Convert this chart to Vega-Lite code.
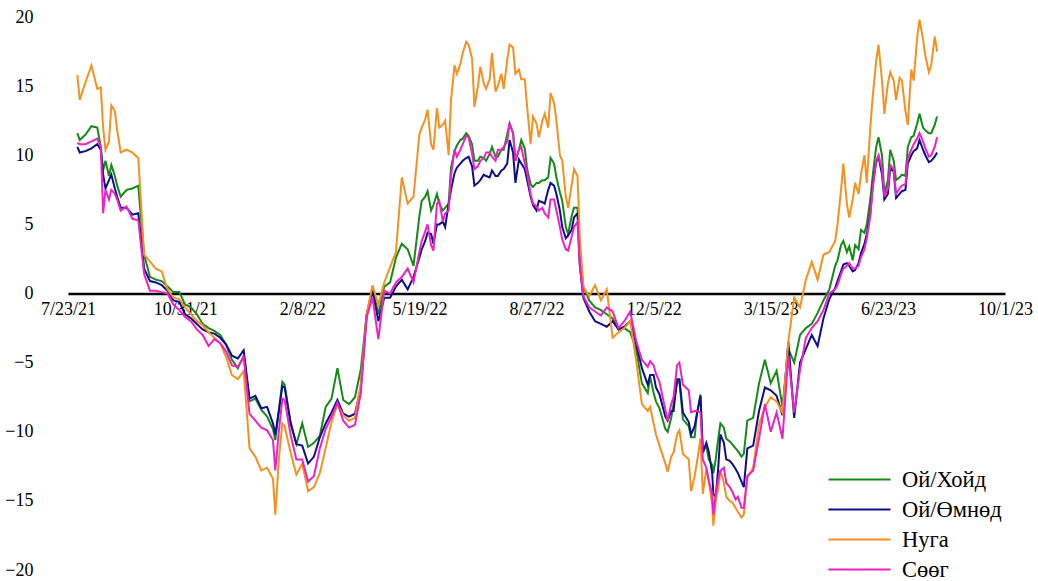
{
  "$schema": "https://vega.github.io/schema/vega-lite/v6.json",
  "width": 937,
  "height": 553,
  "autosize": "none",
  "padding": {"left": 68, "top": 17, "right": 33, "bottom": 11},
  "background": "white",
  "config": {"view": {"stroke": null}, "font": "Liberation Serif"},
  "data": {"values": [
    {"date": "2021/07/31", "Нуга": 15.8, "Ой/Хойд": 11.6, "Ой/Өмнөд": 10.6, "Сөөг": 10.9},
    {"date": "2021/08/02", "Нуга": 14.0, "Ой/Хойд": 11.1, "Ой/Өмнөд": 10.2, "Сөөг": 10.8},
    {"date": "2021/08/07", "Нуга": 15.3, "Ой/Хойд": 11.5, "Ой/Өмнөд": 10.3, "Сөөг": 10.8},
    {"date": "2021/08/12", "Нуга": 16.5, "Ой/Хойд": 12.1, "Ой/Өмнөд": 10.5, "Сөөг": 11.0},
    {"date": "2021/08/17", "Нуга": 14.8, "Ой/Хойд": 12.0, "Ой/Өмнөд": 10.8, "Сөөг": 11.2},
    {"date": "2021/08/20", "Нуга": 14.9, "Ой/Хойд": 10.6, "Ой/Өмнөд": 10.4, "Сөөг": 10.6},
    {"date": "2021/08/22", "Нуга": 12.0, "Ой/Хойд": 8.9, "Ой/Өмнөд": 8.6, "Сөөг": 5.8},
    {"date": "2021/08/24", "Нуга": 10.4, "Ой/Хойд": 9.6, "Ой/Өмнөд": 7.6, "Сөөг": 7.5},
    {"date": "2021/08/27", "Нуга": 11.0, "Ой/Хойд": 8.5, "Ой/Өмнөд": 8.2, "Сөөг": 6.8},
    {"date": "2021/08/29", "Нуга": 13.6, "Ой/Хойд": 9.3, "Ой/Өмнөд": 8.6, "Сөөг": 7.5},
    {"date": "2021/09/01", "Нуга": 13.2, "Ой/Хойд": 8.5, "Ой/Өмнөд": 7.6, "Сөөг": 7.2},
    {"date": "2021/09/03", "Нуга": 11.8, "Ой/Хойд": 7.8, "Ой/Өмнөд": 7.0, "Сөөг": 6.8},
    {"date": "2021/09/06", "Нуга": 10.2, "Ой/Хойд": 7.0, "Ой/Өмнөд": 6.2, "Сөөг": 6.0},
    {"date": "2021/09/11", "Нуга": 10.4, "Ой/Хойд": 7.5, "Ой/Өмнөд": 6.2, "Сөөг": 6.3},
    {"date": "2021/09/16", "Нуга": 10.2, "Ой/Хойд": 7.6, "Ой/Өмнөд": 5.7, "Сөөг": 5.4},
    {"date": "2021/09/21", "Нуга": 9.8, "Ой/Хойд": 7.8, "Ой/Өмнөд": 5.8, "Сөөг": 5.3},
    {"date": "2021/09/26", "Нуга": 2.8, "Ой/Хойд": 2.8, "Ой/Өмнөд": 1.8, "Сөөг": 1.4},
    {"date": "2021/10/01", "Нуга": 2.3, "Ой/Хойд": 1.2, "Ой/Өмнөд": 0.9, "Сөөг": 0.2},
    {"date": "2021/10/06", "Нуга": 1.8, "Ой/Хойд": 1.0, "Ой/Өмнөд": 0.8, "Сөөг": 0.2},
    {"date": "2021/10/11", "Нуга": 1.6, "Ой/Хойд": 0.9, "Ой/Өмнөд": 0.6, "Сөөг": 0.1},
    {"date": "2021/10/16", "Нуга": 0.3, "Ой/Хойд": 0.5, "Ой/Өмнөд": 0.2, "Сөөг": 0.0},
    {"date": "2021/10/21", "Нуга": -0.3, "Ой/Хойд": 0.1, "Ой/Өмнөд": -0.5, "Сөөг": -0.8},
    {"date": "2021/10/26", "Нуга": -0.4, "Ой/Хойд": 0.1, "Ой/Өмнөд": -0.6, "Сөөг": -1.2},
    {"date": "2021/10/31", "Нуга": -1.0, "Ой/Хойд": -0.8, "Ой/Өмнөд": -1.5, "Сөөг": -1.7},
    {"date": "2021/11/05", "Нуга": -1.5, "Ой/Хойд": -1.0, "Ой/Өмнөд": -1.8, "Сөөг": -2.0},
    {"date": "2021/11/10", "Нуга": -2.0, "Ой/Хойд": -1.5, "Ой/Өмнөд": -2.2, "Сөөг": -2.6},
    {"date": "2021/11/15", "Нуга": -2.3, "Ой/Хойд": -2.2, "Ой/Өмнөд": -2.6, "Сөөг": -3.0},
    {"date": "2021/11/20", "Нуга": -2.8, "Ой/Хойд": -2.5, "Ой/Өмнөд": -2.8, "Сөөг": -3.8},
    {"date": "2021/11/25", "Нуга": -3.2, "Ой/Хойд": -2.7, "Ой/Өмнөд": -2.9, "Сөөг": -3.3},
    {"date": "2021/11/30", "Нуга": -3.6, "Ой/Хойд": -3.0, "Ой/Өмнөд": -3.2, "Сөөг": -3.6},
    {"date": "2021/12/05", "Нуга": -4.6, "Ой/Хойд": -3.7, "Ой/Өмнөд": -3.7, "Сөөг": -4.2},
    {"date": "2021/12/10", "Нуга": -5.9, "Ой/Хойд": -4.8, "Ой/Өмнөд": -4.5, "Сөөг": -5.2},
    {"date": "2021/12/15", "Нуга": -6.2, "Ой/Хойд": -5.4, "Ой/Өмнөд": -4.7, "Сөөг": -5.3},
    {"date": "2021/12/20", "Нуга": -5.6, "Ой/Хойд": -4.5, "Ой/Өмнөд": -4.1, "Сөөг": -4.6},
    {"date": "2021/12/25", "Нуга": -11.2, "Ой/Хойд": -7.8, "Ой/Өмнөд": -7.6, "Сөөг": -8.7},
    {"date": "2021/12/30", "Нуга": -11.8, "Ой/Хойд": -7.6, "Ой/Өмнөд": -7.4, "Сөөг": -9.2},
    {"date": "2022/01/04", "Нуга": -12.8, "Ой/Хойд": -8.4, "Ой/Өмнөд": -8.3, "Сөөг": -9.7},
    {"date": "2022/01/09", "Нуга": -12.6, "Ой/Хойд": -8.9, "Ой/Өмнөд": -8.2, "Сөөг": -9.9},
    {"date": "2022/01/14", "Нуга": -13.4, "Ой/Хойд": -9.8, "Ой/Өмнөд": -9.4, "Сөөг": -10.6},
    {"date": "2022/01/16", "Нуга": -16.0, "Ой/Хойд": -10.6, "Ой/Өмнөд": -10.2, "Сөөг": -12.8},
    {"date": "2022/01/19", "Нуга": -12.0, "Ой/Хойд": -8.5, "Ой/Өмнөд": -8.5, "Сөөг": -10.0},
    {"date": "2022/01/22", "Нуга": -9.4, "Ой/Хойд": -6.4, "Ой/Өмнөд": -6.7, "Сөөг": -7.6},
    {"date": "2022/01/24", "Нуга": -9.6, "Ой/Хойд": -6.6, "Ой/Өмнөд": -6.8, "Сөөг": -7.7},
    {"date": "2022/01/29", "Нуга": -11.5, "Ой/Хойд": -9.4, "Ой/Өмнөд": -9.3, "Сөөг": -10.2},
    {"date": "2022/02/03", "Нуга": -13.1, "Ой/Хойд": -10.9, "Ой/Өмнөд": -10.9, "Сөөг": -12.0},
    {"date": "2022/02/08", "Нуга": -12.3, "Ой/Хойд": -9.4, "Ой/Өмнөд": -11.0, "Сөөг": -12.0},
    {"date": "2022/02/13", "Нуга": -14.3, "Ой/Хойд": -11.1, "Ой/Өмнөд": -12.3, "Сөөг": -13.6},
    {"date": "2022/02/18", "Нуга": -14.0, "Ой/Хойд": -10.8, "Ой/Өмнөд": -11.8, "Сөөг": -13.2},
    {"date": "2022/02/23", "Нуга": -13.0, "Ой/Хойд": -10.3, "Ой/Өмнөд": -10.4, "Сөөг": -11.2},
    {"date": "2022/02/28", "Нуга": -11.2, "Ой/Хойд": -8.2, "Ой/Өмнөд": -9.4, "Сөөг": -9.8},
    {"date": "2022/03/05", "Нуга": -9.3, "Ой/Хойд": -7.6, "Ой/Өмнөд": -8.6, "Сөөг": -8.9},
    {"date": "2022/03/10", "Нуга": -8.0, "Ой/Хойд": -5.4, "Ой/Өмнөд": -7.7, "Сөөг": -7.9},
    {"date": "2022/03/15", "Нуга": -8.8, "Ой/Хойд": -7.7, "Ой/Өмнөд": -8.7, "Сөөг": -9.2},
    {"date": "2022/03/20", "Нуга": -9.2, "Ой/Хойд": -8.0, "Ой/Өмнөд": -8.9, "Сөөг": -9.7},
    {"date": "2022/03/25", "Нуга": -9.0, "Ой/Хойд": -7.5, "Ой/Өмнөд": -8.7, "Сөөг": -9.5},
    {"date": "2022/03/30", "Нуга": -6.5, "Ой/Хойд": -5.5, "Ой/Өмнөд": -6.8, "Сөөг": -7.2},
    {"date": "2022/04/04", "Нуга": -1.5, "Ой/Хойд": -1.5, "Ой/Өмнөд": -1.6, "Сөөг": -1.7},
    {"date": "2022/04/09", "Нуга": 0.6, "Ой/Хойд": 0.4, "Ой/Өмнөд": 0.2, "Сөөг": -0.3},
    {"date": "2022/04/14", "Нуга": -0.8, "Ой/Хойд": -1.5, "Ой/Өмнөд": -2.0, "Сөөг": -3.3},
    {"date": "2022/04/19", "Нуга": 0.8, "Ой/Хойд": 0.5, "Ой/Өмнөд": -0.3, "Сөөг": 0.2},
    {"date": "2022/04/24", "Нуга": 1.9, "Ой/Хойд": 0.8, "Ой/Өмнөд": -0.3, "Сөөг": 0.0},
    {"date": "2022/04/29", "Нуга": 3.0, "Ой/Хойд": 2.6, "Ой/Өмнөд": 0.5, "Сөөг": 0.8},
    {"date": "2022/05/04", "Нуга": 8.4, "Ой/Хойд": 3.6, "Ой/Өмнөд": 1.0, "Сөөг": 1.2},
    {"date": "2022/05/09", "Нуга": 6.5, "Ой/Хойд": 3.2, "Ой/Өмнөд": 0.3, "Сөөг": 1.8},
    {"date": "2022/05/14", "Нуга": 7.0, "Ой/Хойд": 2.0, "Ой/Өмнөд": 1.2, "Сөөг": 0.8},
    {"date": "2022/05/19", "Нуга": 11.5, "Ой/Хойд": 5.6, "Ой/Өмнөд": 2.6, "Сөөг": 3.0},
    {"date": "2022/05/21", "Нуга": 12.0, "Ой/Хойд": 6.7, "Ой/Өмнөд": 3.2, "Сөөг": 3.8},
    {"date": "2022/05/24", "Нуга": 12.6, "Ой/Хойд": 7.0, "Ой/Өмнөд": 3.8, "Сөөг": 4.5},
    {"date": "2022/05/26", "Нуга": 13.3, "Ой/Хойд": 7.4, "Ой/Өмнөд": 4.4, "Сөөг": 5.0},
    {"date": "2022/05/29", "Нуга": 10.8, "Ой/Хойд": 6.0, "Ой/Өмнөд": 4.3, "Сөөг": 3.5},
    {"date": "2022/05/31", "Нуга": 10.4, "Ой/Хойд": 6.4, "Ой/Өмнөд": 3.6, "Сөөг": 3.1},
    {"date": "2022/06/03", "Нуга": 13.4, "Ой/Хойд": 7.2, "Ой/Өмнөд": 5.0, "Сөөг": 6.5},
    {"date": "2022/06/05", "Нуга": 12.0, "Ой/Хойд": 6.5, "Ой/Өмнөд": 5.0, "Сөөг": 6.7},
    {"date": "2022/06/08", "Нуга": 12.2, "Ой/Хойд": 6.0, "Ой/Өмнөд": 5.2, "Сөөг": 5.2},
    {"date": "2022/06/10", "Нуга": 12.5, "Ой/Хойд": 6.2, "Ой/Өмнөд": 4.8, "Сөөг": 5.8},
    {"date": "2022/06/13", "Нуга": 10.0, "Ой/Хойд": 6.5, "Ой/Өмнөд": 6.5, "Сөөг": 6.0},
    {"date": "2022/06/15", "Нуга": 14.0, "Ой/Хойд": 9.1, "Ой/Өмнөд": 7.5, "Сөөг": 8.5},
    {"date": "2022/06/18", "Нуга": 16.5, "Ой/Хойд": 10.3, "Ой/Өмнөд": 8.7, "Сөөг": 10.4},
    {"date": "2022/06/20", "Нуга": 15.9, "Ой/Хойд": 10.7, "Ой/Өмнөд": 9.1, "Сөөг": 9.9},
    {"date": "2022/06/23", "Нуга": 16.6, "Ой/Хойд": 11.1, "Ой/Өмнөд": 9.4, "Сөөг": 10.4},
    {"date": "2022/06/25", "Нуга": 17.4, "Ой/Хойд": 11.2, "Ой/Өмнөд": 9.6, "Сөөг": 10.8},
    {"date": "2022/06/28", "Нуга": 18.2, "Ой/Хойд": 11.6, "Ой/Өмнөд": 9.8, "Сөөг": 11.4},
    {"date": "2022/06/30", "Нуга": 18.0, "Ой/Хойд": 11.4, "Ой/Өмнөд": 9.9, "Сөөг": 11.3},
    {"date": "2022/07/03", "Нуга": 17.0, "Ой/Хойд": 10.8, "Ой/Өмнөд": 9.2, "Сөөг": 10.1},
    {"date": "2022/07/05", "Нуга": 13.5, "Ой/Хойд": 9.6, "Ой/Өмнөд": 7.8, "Сөөг": 9.0},
    {"date": "2022/07/08", "Нуга": 15.0, "Ой/Хойд": 9.6, "Ой/Өмнөд": 8.0, "Сөөг": 9.2},
    {"date": "2022/07/10", "Нуга": 16.4, "Ой/Хойд": 9.9, "Ой/Өмнөд": 8.2, "Сөөг": 9.6},
    {"date": "2022/07/13", "Нуга": 15.2, "Ой/Хойд": 9.8, "Ой/Өмнөд": 8.6, "Сөөг": 9.8},
    {"date": "2022/07/15", "Нуга": 14.8, "Ой/Хойд": 9.6, "Ой/Өмнөд": 8.5, "Сөөг": 10.2},
    {"date": "2022/07/18", "Нуга": 15.5, "Ой/Хойд": 10.1, "Ой/Өмнөд": 8.4, "Сөөг": 10.2},
    {"date": "2022/07/20", "Нуга": 17.4, "Ой/Хойд": 10.6, "Ой/Өмнөд": 8.9, "Сөөг": 9.9},
    {"date": "2022/07/23", "Нуга": 14.6, "Ой/Хойд": 9.9, "Ой/Өмнөд": 8.5, "Сөөг": 9.6},
    {"date": "2022/07/25", "Нуга": 15.0, "Ой/Хойд": 9.9, "Ой/Өмнөд": 8.5, "Сөөг": 10.4},
    {"date": "2022/07/28", "Нуга": 15.9, "Ой/Хойд": 10.4, "Ой/Өмнөд": 8.9, "Сөөг": 10.4},
    {"date": "2022/07/30", "Нуга": 14.8, "Ой/Хойд": 10.4, "Ой/Өмнөд": 9.0, "Сөөг": 10.6},
    {"date": "2022/08/02", "Нуга": 16.9, "Ой/Хойд": 11.5, "Ой/Өмнөд": 9.4, "Сөөг": 11.0},
    {"date": "2022/08/04", "Нуга": 18.0, "Ой/Хойд": 12.3, "Ой/Өмнөд": 11.1, "Сөөг": 12.3},
    {"date": "2022/08/07", "Нуга": 17.8, "Ой/Хойд": 11.6, "Ой/Өмнөд": 10.2, "Сөөг": 11.6},
    {"date": "2022/08/09", "Нуга": 15.9, "Ой/Хойд": 9.6, "Ой/Өмнөд": 8.0, "Сөөг": 9.6},
    {"date": "2022/08/12", "Нуга": 16.2, "Ой/Хойд": 10.4, "Ой/Өмнөд": 9.7, "Сөөг": 10.4},
    {"date": "2022/08/14", "Нуга": 15.5, "Ой/Хойд": 11.1, "Ой/Өмнөд": 9.4, "Сөөг": 10.6},
    {"date": "2022/08/17", "Нуга": 15.5, "Ой/Хойд": 10.5, "Ой/Өмнөд": 9.0, "Сөөг": 9.4},
    {"date": "2022/08/19", "Нуга": 13.5, "Ой/Хойд": 9.0, "Ой/Өмнөд": 8.2, "Сөөг": 8.7},
    {"date": "2022/08/22", "Нуга": 10.8, "Ой/Хойд": 7.9, "Ой/Өмнөд": 7.0, "Сөөг": 7.2},
    {"date": "2022/08/24", "Нуга": 12.8, "Ой/Хойд": 7.7, "Ой/Өмнөд": 6.4, "Сөөг": 6.5},
    {"date": "2022/08/27", "Нуга": 12.3, "Ой/Хойд": 8.0, "Ой/Өмнөд": 6.0, "Сөөг": 6.3},
    {"date": "2022/08/29", "Нуга": 11.3, "Ой/Хойд": 8.0, "Ой/Өмнөд": 6.7, "Сөөг": 6.0},
    {"date": "2022/09/01", "Нуга": 12.5, "Ой/Хойд": 8.2, "Ой/Өмнөд": 6.6, "Сөөг": 6.2},
    {"date": "2022/09/03", "Нуга": 13.0, "Ой/Хойд": 8.2, "Ой/Өмнөд": 6.5, "Сөөг": 5.8},
    {"date": "2022/09/06", "Нуга": 12.0, "Ой/Хойд": 8.4, "Ой/Өмнөд": 7.5, "Сөөг": 5.5},
    {"date": "2022/09/08", "Нуга": 14.5, "Ой/Хойд": 9.8, "Ой/Өмнөд": 8.0, "Сөөг": 6.8},
    {"date": "2022/09/11", "Нуга": 13.8, "Ой/Хойд": 9.4, "Ой/Өмнөд": 7.8, "Сөөг": 6.8},
    {"date": "2022/09/13", "Нуга": 12.5, "Ой/Хойд": 8.4, "Ой/Өмнөд": 7.2, "Сөөг": 6.0},
    {"date": "2022/09/16", "Нуга": 10.0, "Ой/Хойд": 7.3, "Ой/Өмнөд": 6.0, "Сөөг": 4.8},
    {"date": "2022/09/18", "Нуга": 9.6, "Ой/Хойд": 6.7, "Ой/Өмнөд": 4.8, "Сөөг": 3.9},
    {"date": "2022/09/21", "Нуга": 7.0, "Ой/Хойд": 4.8, "Ой/Өмнөд": 4.0, "Сөөг": 3.2},
    {"date": "2022/09/23", "Нуга": 6.2, "Ой/Хойд": 4.3, "Ой/Өмнөд": 4.2, "Сөөг": 3.1},
    {"date": "2022/09/26", "Нуга": 7.8, "Ой/Хойд": 5.6, "Ой/Өмнөд": 4.6, "Сөөг": 4.1},
    {"date": "2022/09/28", "Нуга": 9.0, "Ой/Хойд": 6.2, "Ой/Өмнөд": 5.5, "Сөөг": 4.8},
    {"date": "2022/10/01", "Нуга": 8.5, "Ой/Хойд": 6.2, "Ой/Өмнөд": 5.8, "Сөөг": 5.2},
    {"date": "2022/10/03", "Нуга": 4.0, "Ой/Хойд": 3.0, "Ой/Өмнөд": 2.0, "Сөөг": 2.0},
    {"date": "2022/10/06", "Нуга": 0.5, "Ой/Хойд": 0.5, "Ой/Өмнөд": -0.3, "Сөөг": -0.2},
    {"date": "2022/10/11", "Нуга": -0.2, "Ой/Хойд": -0.5, "Ой/Өмнөд": -1.3, "Сөөг": -1.0},
    {"date": "2022/10/16", "Нуга": 0.6, "Ой/Хойд": -1.0, "Ой/Өмнөд": -2.0, "Сөөг": -1.3},
    {"date": "2022/10/21", "Нуга": -0.5, "Ой/Хойд": -1.2, "Ой/Өмнөд": -2.2, "Сөөг": -1.6},
    {"date": "2022/10/26", "Нуга": 0.3, "Ой/Хойд": -1.5, "Ой/Өмнөд": -2.4, "Сөөг": -1.0},
    {"date": "2022/10/31", "Нуга": -3.2, "Ой/Хойд": -1.8, "Ой/Өмнөд": -2.0, "Сөөг": -1.3},
    {"date": "2022/11/05", "Нуга": -2.8, "Ой/Хойд": -2.6, "Ой/Өмнөд": -2.6, "Сөөг": -2.5},
    {"date": "2022/11/10", "Нуга": -2.5, "Ой/Хойд": -2.5, "Ой/Өмнөд": -2.4, "Сөөг": -2.0},
    {"date": "2022/11/15", "Нуга": -2.0, "Ой/Хойд": -2.8, "Ой/Өмнөд": -2.0, "Сөөг": -1.3},
    {"date": "2022/11/20", "Нуга": -4.8, "Ой/Хойд": -4.0, "Ой/Өмнөд": -3.6, "Сөөг": -3.4},
    {"date": "2022/11/25", "Нуга": -8.0, "Ой/Хойд": -6.5, "Ой/Өмнөд": -5.4, "Сөөг": -4.8},
    {"date": "2022/11/30", "Нуга": -8.5, "Ой/Хойд": -7.2, "Ой/Өмнөд": -6.6, "Сөөг": -5.3},
    {"date": "2022/12/02", "Нуга": -8.2, "Ой/Хойд": -6.0, "Ой/Өмнөд": -5.9, "Сөөг": -4.9},
    {"date": "2022/12/05", "Нуга": -9.4, "Ой/Хойд": -7.2, "Ой/Өмнөд": -5.9, "Сөөг": -5.2},
    {"date": "2022/12/07", "Нуга": -10.2, "Ой/Хойд": -7.8, "Ой/Өмнөд": -6.8, "Сөөг": -5.8},
    {"date": "2022/12/10", "Нуга": -11.0, "Ой/Хойд": -8.3, "Ой/Өмнөд": -7.3, "Сөөг": -6.4},
    {"date": "2022/12/15", "Нуга": -12.3, "Ой/Хойд": -9.8, "Ой/Өмнөд": -8.9, "Сөөг": -8.4},
    {"date": "2022/12/17", "Нуга": -12.9, "Ой/Хойд": -10.0, "Ой/Өмнөд": -9.2, "Сөөг": -9.2},
    {"date": "2022/12/20", "Нуга": -11.8, "Ой/Хойд": -9.0, "Ой/Өмнөд": -8.5, "Сөөг": -8.0},
    {"date": "2022/12/22", "Нуга": -11.5, "Ой/Хойд": -8.0, "Ой/Өмнөд": -8.5, "Сөөг": -7.5},
    {"date": "2022/12/25", "Нуга": -10.2, "Ой/Хойд": -6.5, "Ой/Өмнөд": -6.2, "Сөөг": -5.2},
    {"date": "2022/12/27", "Нуга": -9.9, "Ой/Хойд": -6.3, "Ой/Өмнөд": -6.2, "Сөөг": -5.0},
    {"date": "2022/12/30", "Нуга": -11.6, "Ой/Хойд": -9.1, "Ой/Өмнөд": -8.6, "Сөөг": -6.6},
    {"date": "2023/01/04", "Нуга": -12.0, "Ой/Хойд": -9.6, "Ой/Өмнөд": -9.3, "Сөөг": -7.0},
    {"date": "2023/01/06", "Нуга": -14.3, "Ой/Хойд": -10.4, "Ой/Өмнөд": -10.2, "Сөөг": -8.6},
    {"date": "2023/01/09", "Нуга": -13.2, "Ой/Хойд": -10.4, "Ой/Өмнөд": -9.6, "Сөөг": -8.5},
    {"date": "2023/01/11", "Нуга": -12.2, "Ой/Хойд": -8.7, "Ой/Өмнөд": -8.7, "Сөөг": -8.5},
    {"date": "2023/01/14", "Нуга": -10.5, "Ой/Хойд": -7.3, "Ой/Өмнөд": -7.4, "Сөөг": -8.6},
    {"date": "2023/01/16", "Нуга": -14.5, "Ой/Хойд": -11.5, "Ой/Өмнөд": -11.5, "Сөөг": -12.0},
    {"date": "2023/01/19", "Нуга": -12.7, "Ой/Хойд": -11.0, "Ой/Өмнөд": -10.8, "Сөөг": -12.6},
    {"date": "2023/01/21", "Нуга": -13.5, "Ой/Хойд": -12.0, "Ой/Өмнөд": -11.4, "Сөөг": -13.5},
    {"date": "2023/01/24", "Нуга": -15.3, "Ой/Хойд": -12.4, "Ой/Өмнөд": -13.0, "Сөөг": -14.5},
    {"date": "2023/01/25", "Нуга": -16.8, "Ой/Хойд": -13.0, "Ой/Өмнөд": -14.5, "Сөөг": -16.0},
    {"date": "2023/01/27", "Нуга": -15.0, "Ой/Хойд": -12.0, "Ой/Өмнөд": -14.7, "Сөөг": -14.5},
    {"date": "2023/01/29", "Нуга": -14.2, "Ой/Хойд": -10.6, "Ой/Өмнөд": -12.8, "Сөөг": -13.5},
    {"date": "2023/01/31", "Нуга": -12.8, "Ой/Хойд": -9.4, "Ой/Өмнөд": -10.2, "Сөөг": -12.8},
    {"date": "2023/02/03", "Нуга": -13.7, "Ой/Хойд": -9.7, "Ой/Өмнөд": -10.8, "Сөөг": -12.6},
    {"date": "2023/02/05", "Нуга": -14.7, "Ой/Хойд": -10.5, "Ой/Өмнөд": -12.0, "Сөөг": -13.7},
    {"date": "2023/02/08", "Нуга": -15.0, "Ой/Хойд": -10.7, "Ой/Өмнөд": -12.1, "Сөөг": -14.0},
    {"date": "2023/02/10", "Нуга": -15.1, "Ой/Хойд": -10.9, "Ой/Өмнөд": -12.3, "Сөөг": -14.3},
    {"date": "2023/02/13", "Нуга": -15.5, "Ой/Хойд": -11.2, "Ой/Өмнөд": -12.7, "Сөөг": -14.9},
    {"date": "2023/02/15", "Нуга": -15.8, "Ой/Хойд": -11.4, "Ой/Өмнөд": -13.0, "Сөөг": -14.7},
    {"date": "2023/02/18", "Нуга": -16.2, "Ой/Хойд": -11.8, "Ой/Өмнөд": -13.6, "Сөөг": -15.5},
    {"date": "2023/02/20", "Нуга": -16.0, "Ой/Хойд": -11.6, "Ой/Өмнөд": -14.0, "Сөөг": -15.5},
    {"date": "2023/02/23", "Нуга": -13.3, "Ой/Хойд": -9.2, "Ой/Өмнөд": -11.2, "Сөөг": -13.2},
    {"date": "2023/02/28", "Нуга": -12.6, "Ой/Хойд": -9.0, "Ой/Өмнөд": -11.0, "Сөөг": -12.8},
    {"date": "2023/03/05", "Нуга": -9.5, "Ой/Хойд": -6.5, "Ой/Өмнөд": -8.5, "Сөөг": -10.5},
    {"date": "2023/03/10", "Нуга": -8.2, "Ой/Хойд": -4.8, "Ой/Өмнөд": -6.8, "Сөөг": -8.0},
    {"date": "2023/03/15", "Нуга": -7.5, "Ой/Хойд": -6.5, "Ой/Өмнөд": -7.0, "Сөөг": -10.0},
    {"date": "2023/03/20", "Нуга": -7.8, "Ой/Хойд": -5.6, "Ой/Өмнөд": -7.4, "Сөөг": -8.6},
    {"date": "2023/03/25", "Нуга": -8.6, "Ой/Хойд": -8.2, "Ой/Өмнөд": -8.8, "Сөөг": -10.5},
    {"date": "2023/03/30", "Нуга": -3.5, "Ой/Хойд": -4.0, "Ой/Өмнөд": -3.5, "Сөөг": -4.5},
    {"date": "2023/04/04", "Нуга": -0.3, "Ой/Хойд": -5.0, "Ой/Өмнөд": -9.0, "Сөөг": -8.6},
    {"date": "2023/04/09", "Нуга": -1.0, "Ой/Хойд": -3.0, "Ой/Өмнөд": -5.0, "Сөөг": -5.5},
    {"date": "2023/04/14", "Нуга": 1.0, "Ой/Хойд": -2.5, "Ой/Өмнөд": -4.0, "Сөөг": -3.2},
    {"date": "2023/04/19", "Нуга": 2.3, "Ой/Хойд": -2.2, "Ой/Өмнөд": -3.0, "Сөөг": -2.5},
    {"date": "2023/04/24", "Нуга": 1.0, "Ой/Хойд": -1.4, "Ой/Өмнөд": -3.8, "Сөөг": -2.0},
    {"date": "2023/04/29", "Нуга": 2.8, "Ой/Хойд": -0.5, "Ой/Өмнөд": -1.8, "Сөөг": -1.2},
    {"date": "2023/05/04", "Нуга": 3.0, "Ой/Хойд": 0.3, "Ой/Өмнөд": -0.4, "Сөөг": 0.0},
    {"date": "2023/05/09", "Нуга": 3.8, "Ой/Хойд": 2.0, "Ой/Өмнөд": 0.4, "Сөөг": 0.3},
    {"date": "2023/05/11", "Нуга": 5.0, "Ой/Хойд": 2.4, "Ой/Өмнөд": 0.9, "Сөөг": 0.6},
    {"date": "2023/05/14", "Нуга": 7.5, "Ой/Хойд": 3.5, "Ой/Өмнөд": 1.6, "Сөөг": 1.4},
    {"date": "2023/05/16", "Нуга": 9.4, "Ой/Хойд": 3.8, "Ой/Өмнөд": 2.1, "Сөөг": 1.8},
    {"date": "2023/05/19", "Нуга": 6.5, "Ой/Хойд": 3.0, "Ой/Өмнөд": 2.2, "Сөөг": 2.0},
    {"date": "2023/05/21", "Нуга": 5.5, "Ой/Хойд": 3.4, "Ой/Өмнөд": 2.0, "Сөөг": 2.2},
    {"date": "2023/05/24", "Нуга": 6.8, "Ой/Хойд": 2.4, "Ой/Өмнөд": 1.6, "Сөөг": 1.8},
    {"date": "2023/05/26", "Нуга": 8.0, "Ой/Хойд": 3.5, "Ой/Өмнөд": 1.7, "Сөөг": 1.8},
    {"date": "2023/05/29", "Нуга": 7.2, "Ой/Хойд": 3.2, "Ой/Өмнөд": 2.2, "Сөөг": 2.0},
    {"date": "2023/05/31", "Нуга": 8.6, "Ой/Хойд": 4.6, "Ой/Өмнөд": 2.9, "Сөөг": 2.6},
    {"date": "2023/06/03", "Нуга": 10.0, "Ой/Хойд": 4.4, "Ой/Өмнөд": 3.6, "Сөөг": 3.2},
    {"date": "2023/06/05", "Нуга": 8.0, "Ой/Хойд": 5.0, "Ой/Өмнөд": 4.3, "Сөөг": 4.0},
    {"date": "2023/06/08", "Нуга": 12.0, "Ой/Хойд": 6.8, "Ой/Өмнөд": 5.8, "Сөөг": 5.6},
    {"date": "2023/06/10", "Нуга": 14.2, "Ой/Хойд": 8.5, "Ой/Өмнөд": 7.8, "Сөөг": 7.6},
    {"date": "2023/06/13", "Нуга": 16.8, "Ой/Хойд": 10.6, "Ой/Өмнөд": 9.5, "Сөөг": 9.6},
    {"date": "2023/06/15", "Нуга": 18.0, "Ой/Хойд": 11.3, "Ой/Өмнөд": 9.9, "Сөөг": 10.0},
    {"date": "2023/06/18", "Нуга": 15.4, "Ой/Хойд": 10.0, "Ой/Өмнөд": 8.6, "Сөөг": 9.0},
    {"date": "2023/06/20", "Нуга": 13.0, "Ой/Хойд": 7.2, "Ой/Өмнөд": 6.8, "Сөөг": 7.0},
    {"date": "2023/06/23", "Нуга": 15.2, "Ой/Хойд": 8.2, "Ой/Өмнөд": 7.2, "Сөөг": 7.6},
    {"date": "2023/06/25", "Нуга": 16.0, "Ой/Хойд": 10.4, "Ой/Өмнөд": 9.1, "Сөөг": 9.3},
    {"date": "2023/06/28", "Нуга": 15.4, "Ой/Хойд": 9.6, "Ой/Өмнөд": 8.8, "Сөөг": 9.0},
    {"date": "2023/06/30", "Нуга": 14.0, "Ой/Хойд": 8.2, "Ой/Өмнөд": 6.9, "Сөөг": 7.2},
    {"date": "2023/07/03", "Нуга": 15.6, "Ой/Хойд": 8.4, "Ой/Өмнөд": 7.2, "Сөөг": 7.6},
    {"date": "2023/07/05", "Нуга": 15.4, "Ой/Хойд": 8.6, "Ой/Өмнөд": 7.4, "Сөөг": 7.8},
    {"date": "2023/07/08", "Нуга": 13.2, "Ой/Хойд": 8.5, "Ой/Өмнөд": 7.5, "Сөөг": 7.9},
    {"date": "2023/07/10", "Нуга": 12.2, "Ой/Хойд": 10.6, "Ой/Өмнөд": 9.4, "Сөөг": 9.8},
    {"date": "2023/07/13", "Нуга": 16.2, "Ой/Хойд": 11.3, "Ой/Өмнөд": 10.0, "Сөөг": 10.4},
    {"date": "2023/07/15", "Нуга": 15.4, "Ой/Хойд": 11.4, "Ой/Өмнөд": 10.3, "Сөөг": 10.8},
    {"date": "2023/07/18", "Нуга": 18.5, "Ой/Хойд": 12.3, "Ой/Өмнөд": 10.5, "Сөөг": 11.2},
    {"date": "2023/07/20", "Нуга": 19.8, "Ой/Хойд": 13.0, "Ой/Өмнөд": 11.1, "Сөөг": 11.6},
    {"date": "2023/07/23", "Нуга": 18.4, "Ой/Хойд": 12.0, "Ой/Өмнөд": 10.4, "Сөөг": 11.0},
    {"date": "2023/07/25", "Нуга": 17.2, "Ой/Хойд": 11.8, "Ой/Өмнөд": 10.0, "Сөөг": 10.5},
    {"date": "2023/07/28", "Нуга": 16.0, "Ой/Хойд": 11.6, "Ой/Өмнөд": 9.5, "Сөөг": 9.9},
    {"date": "2023/07/30", "Нуга": 16.5, "Ой/Хойд": 11.6, "Ой/Өмнөд": 9.6, "Сөөг": 10.0},
    {"date": "2023/08/02", "Нуга": 18.6, "Ой/Хойд": 12.2, "Ой/Өмнөд": 9.9, "Сөөг": 10.6},
    {"date": "2023/08/04", "Нуга": 17.5, "Ой/Хойд": 12.8, "Ой/Өмнөд": 10.2, "Сөөг": 11.3}
  ]},
  "transform": [
    {"fold": ["Ой/Хойд", "Ой/Өмнөд", "Нуга", "Сөөг"], "as": ["series", "value"]}
  ],
  "mark": {"type": "line", "strokeWidth": 2},
  "encoding": {
    "x": {
      "field": "date",
      "type": "temporal",
      "scale": {"domain": [{"year": 2021, "month": 7, "date": 23}, {"year": 2023, "month": 10, "date": 1}]},
      "axis": {
        "title": null,
        "values": [
          {"year": 2021, "month": 7, "date": 23},
          {"year": 2021, "month": 10, "date": 31},
          {"year": 2022, "month": 2, "date": 8},
          {"year": 2022, "month": 5, "date": 19},
          {"year": 2022, "month": 8, "date": 27},
          {"year": 2022, "month": 12, "date": 5},
          {"year": 2023, "month": 3, "date": 15},
          {"year": 2023, "month": 6, "date": 23},
          {"year": 2023, "month": 10, "date": 1}
        ],
        "format": "%-m/%-d/%y",
        "offset": -276.5,
        "domainColor": "#000000",
        "domainWidth": 2.5,
        "ticks": false,
        "grid": false,
        "labelFont": "Liberation Serif",
        "labelFontSize": 18,
        "labelColor": "#000000",
        "labelPadding": 7,
        "labelFlush": false,
        "labelOverlap": false
      }
    },
    "y": {
      "field": "value",
      "type": "quantitative",
      "scale": {"domain": [-20, 20], "nice": false, "zero": false},
      "axis": {
        "title": null,
        "values": [-20, -15, -10, -5, 0, 5, 10, 15, 20],
        "domain": false,
        "ticks": false,
        "grid": false,
        "labelFont": "Liberation Serif",
        "labelFontSize": 18,
        "labelColor": "#000000",
        "labelPadding": 35
      }
    },
    "color": {
      "field": "series",
      "type": "nominal",
      "sort": ["Ой/Хойд", "Ой/Өмнөд", "Нуга", "Сөөг"],
      "scale": {
        "domain": ["Ой/Хойд", "Ой/Өмнөд", "Нуга", "Сөөг"],
        "range": ["#168a16", "#0e0e8c", "#f7901e", "#f020c8"]
      },
      "legend": {
        "title": null,
        "orient": "none",
        "legendX": 780,
        "legendY": 451,
        "padding": 0,
        "symbolType": "M-3,0H3",
        "symbolSize": 428,
        "symbolStrokeWidth": 2,
        "labelFont": "Liberation Serif",
        "labelFontSize": 22.5,
        "labelColor": "#000000",
        "labelOffset": 31,
        "rowPadding": 7,
        "labelLimit": 300
      }
    }
  }
}
